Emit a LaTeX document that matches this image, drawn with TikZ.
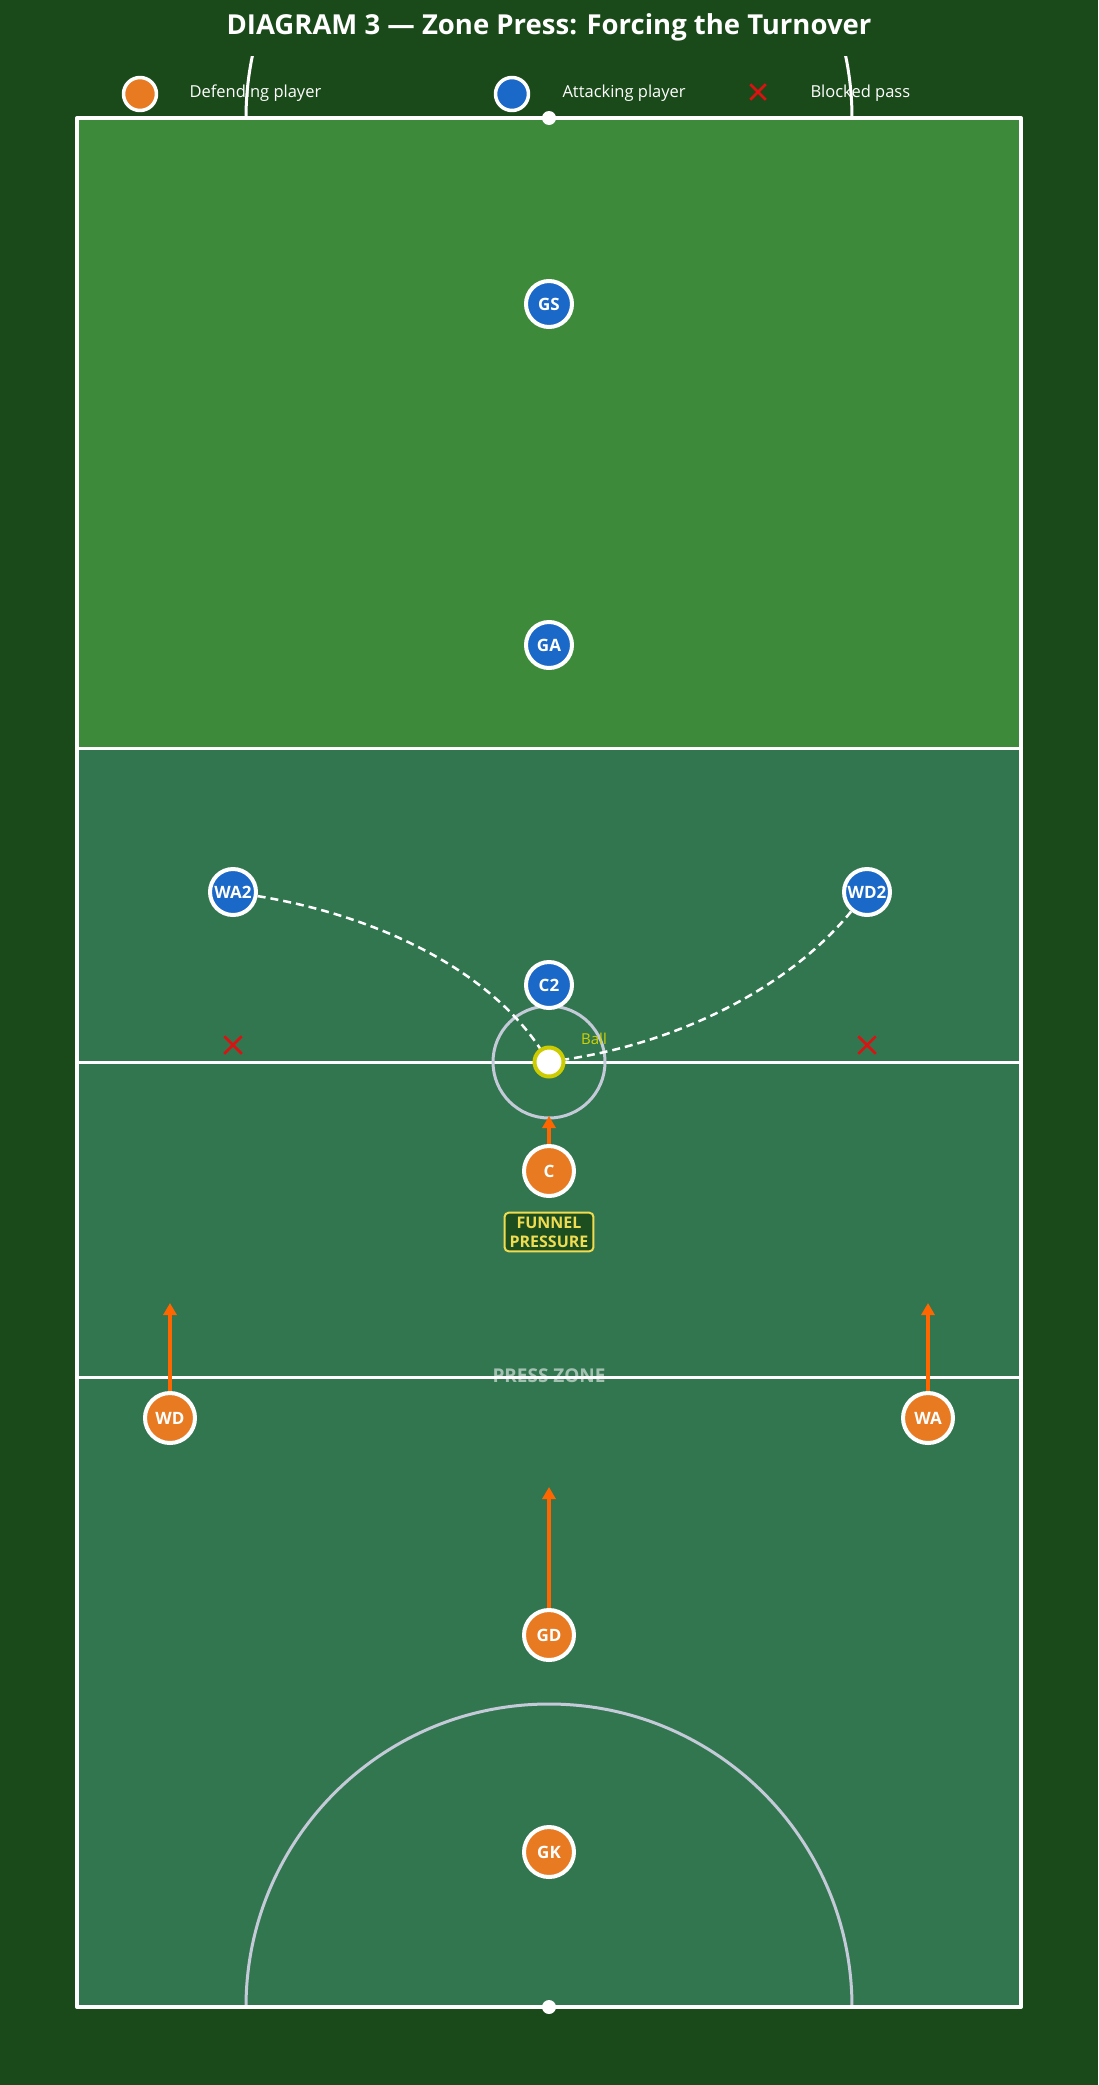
\documentclass[tikz,border=0pt]{standalone}
\usepackage{fontspec}
\setmainfont{Open Sans}
\usetikzlibrary{arrows.meta,shapes.misc}
\definecolor{bgdark}{HTML}{1A4A1A}
\definecolor{goalgreen}{HTML}{3D8B3A}
\definecolor{midgreen}{HTML}{327650}
\definecolor{defor}{HTML}{E87A22}
\definecolor{attblue}{HTML}{1A68C8}
\definecolor{pressor}{HTML}{FF6600}
\definecolor{linegray}{HTML}{C4CAD8}
\definecolor{ballyel}{HTML}{CCCC00}
\definecolor{funyel}{HTML}{F0DC50}
\definecolor{blockred}{HTML}{DD1111}
\newcommand{\fsz}[1]{\fontsize{#1}{#1}\selectfont}
\tikzset{
	player/.style={circle, draw=white, line width=4pt, inner sep=0pt, text=white, font=\bfseries\fsz{17}},
	defender/.style={player, fill=defor, minimum size=50pt},
	attacker/.style={player, fill=attblue, minimum size=46pt},
	press/.style={draw=pressor, line width=4pt, -{Triangle[length=12pt,width=13pt]}},
	pass/.style={draw=white, line width=2.5pt, dash pattern=on 8pt off 5pt},
	blocked/.style={cross out, draw=blockred, line width=2.5pt, minimum size=13pt, inner sep=0pt},
	legendtext/.style={anchor=west, text=white, font=\fsz{16.5}},
}
\begin{document}
\begin{tikzpicture}[x=1pt, y=-1pt, line join=round]
	\def\L{77} \def\R{1021} \def\T{118} \def\B{2007} % court
	\def\Ma{748} \def\Mb{1062} \def\Mc{1377} % thirds and centre
	\def\Cx{549}
	\fill[bgdark] (0,0) rectangle (1098,2085);
	\useasboundingbox (0,0) rectangle (1098,2085);
	% title and legend
	\node[text=white, font=\bfseries\fsz{27.5}] (title) at (\Cx,27) {DIAGRAM 3 — Zone Press: Forcing the Turnover};
	\node[player, fill=defor, minimum size=33pt, line width=3.5pt] (legdef) at (140,94) {};
	\node[legendtext] (legdeftext) at (186,93) {Defending player};
	\node[player, fill=attblue, minimum size=33pt, line width=3.5pt] (legatt) at (512,94) {};
	\node[legendtext] (legatttext) at (559,93) {Attacking player};
	\node[blocked] (legblock) at (758,92) {};
	\node[legendtext] (legblocktext) at (807,93) {Blocked pass};
	% court areas
	\fill[goalgreen] (\L,\T) rectangle (\R,\Ma);
	\fill[midgreen] (\L,\Ma) rectangle (\R,\B);
	\node[text=white, opacity=0.55, font=\bfseries\fsz{19}] (presszone) at (\Cx,1376) {PRESS ZONE};
	\begin{scope}
		\clip (0,56) rectangle (1098,\T);
		\draw[white, line width=3pt] (\Cx,\T) circle (303);
	\end{scope}
	\begin{scope}
		\clip (\L,\T) rectangle (\R,\B);
		\draw[linegray, line width=3pt] (\Cx,\B) circle (303);
	\end{scope}
	\draw[white, line width=3pt] (\L,\Ma) -- (\R,\Ma) (\L,\Mb) -- (\R,\Mb) (\L,\Mc) -- (\R,\Mc);
	\draw[white, line width=4pt] (\L,\T) rectangle (\R,\B);
	\draw[linegray, line width=3pt] (\Cx,\Mb) circle (56);
	\fill[white] (\Cx,\T) circle (7) (\Cx,\B) circle (7);
	% players
	\node[attacker] (GS) at (\Cx,304) {GS};
	\node[attacker] (GA) at (\Cx,645) {GA};
	\node[attacker] (WA2) at (233,892) {WA2};
	\node[attacker] (WD2) at (867,892) {WD2};
	\node[attacker] (C2) at (\Cx,985) {C2};
	\node[defender] (C) at (\Cx,1171) {C};
	\node[defender] (WD) at (170,1418) {WD};
	\node[defender] (WA) at (928,1418) {WA};
	\node[defender] (GD) at (\Cx,1635) {GD};
	\node[defender] (GK) at (\Cx,1852) {GK};
	\node[circle, fill=white, draw=ballyel, line width=4pt, minimum size=29pt, inner sep=0pt] (ball) at (\Cx,\Mb) {};
	\node[text=ballyel!90!yellow, font=\fsz{15}] (balltext) at (594,1039) {Ball};
	% passes and blocks
	\draw[pass] (WA2) .. controls (384,917) and (490,973) .. (ball);
	\draw[pass] (WD2) .. controls (792,984) and (686,1041) .. (ball);
	\node[blocked, minimum size=15pt] (blockleft) at (233,1045) {};
	\node[blocked, minimum size=15pt] (blockright) at (867,1045) {};
	% pressure
	\coordinate (Ctip) at (\Cx,1116);
	\coordinate (WDtip) at (170,1303);
	\coordinate (WAtip) at (928,1303);
	\coordinate (GDtip) at (\Cx,1487);
	\draw[press] (C) -- (Ctip);
	\draw[press] (WD) -- (WDtip);
	\draw[press] (WA) -- (WAtip);
	\draw[press] (GD) -- (GDtip);
	\node[draw=funyel, line width=2pt, fill=bgdark!90!midgreen, rounded corners=4pt, text=funyel, font=\bfseries\fontsize{16}{19}\selectfont, align=center, inner xsep=5pt, inner ysep=4pt] (funnel) at (\Cx,1232) {FUNNEL\\PRESSURE};
\end{tikzpicture}
\end{document}
